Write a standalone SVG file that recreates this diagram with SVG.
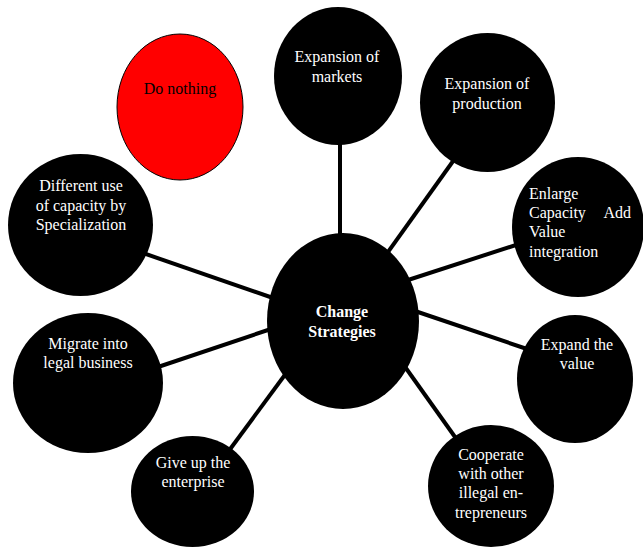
<svg xmlns="http://www.w3.org/2000/svg" width="643" height="549" viewBox="0 0 643 549">
<style>
.node{fill:#000;}
.t{font-family:"Liberation Serif","Times New Roman",serif;font-size:16px;fill:#fff;text-anchor:middle;}
.tl{text-anchor:start;}
.b{font-weight:bold;}
.conn line{stroke:#000;stroke-width:4;}
</style>
<rect width="643" height="549" fill="#fff"/>
<g id="connectors" class="conn">
<line x1="340" y1="140" x2="340" y2="240"/>
<line x1="456" y1="157" x2="383" y2="259"/>
<line x1="405" y1="281" x2="525" y2="242"/>
<line x1="412" y1="310" x2="530" y2="350"/>
<line x1="403" y1="364" x2="460" y2="444"/>
<line x1="287" y1="372" x2="228" y2="452"/>
<line x1="274" y1="328" x2="155" y2="368"/>
<line x1="276" y1="299" x2="140" y2="252"/>
</g>
<g id="do-nothing">
<ellipse cx="180" cy="107" rx="63" ry="73" fill="#ff0000" stroke="#000" stroke-width="1"/>
<text class="t" x="180" y="94" style="fill:#000">Do nothing</text>
</g>
<g id="expansion-markets">
<ellipse class="node" cx="338" cy="76" rx="64" ry="69"/>
<text class="t" x="337" y="62">Expansion of</text>
<text class="t" x="337" y="82">markets</text>
</g>
<g id="expansion-production">
<ellipse class="node" cx="487.5" cy="102.5" rx="67.5" ry="69.5"/>
<text class="t" x="487" y="89">Expansion of</text>
<text class="t" x="487" y="109">production</text>
</g>
<g id="enlarge-capacity">
<ellipse class="node" cx="578" cy="227" rx="66" ry="70"/>
<text class="t tl" x="529" y="199">Enlarge</text>
<text class="t tl" x="529" y="218">Capacity</text>
<text class="t" x="631" y="218" style="text-anchor:end">Add</text>
<text class="t tl" x="529" y="237">Value</text>
<text class="t tl" x="529" y="257">integration</text>
</g>
<g id="expand-value">
<ellipse class="node" cx="575" cy="379" rx="58" ry="64"/>
<text class="t" x="577" y="350">Expand the</text>
<text class="t" x="577" y="369">value</text>
</g>
<g id="cooperate">
<ellipse class="node" cx="491" cy="486" rx="63" ry="61"/>
<text class="t" x="491" y="460">Cooperate</text>
<text class="t" x="491" y="479">with other</text>
<text class="t" x="491" y="498">illegal en-</text>
<text class="t" x="491" y="518">trepreneurs</text>
</g>
<g id="give-up">
<ellipse class="node" cx="192.5" cy="491.5" rx="61.5" ry="55.5"/>
<text class="t" x="193" y="468">Give up the</text>
<text class="t" x="193" y="487">enterprise</text>
</g>
<g id="migrate">
<ellipse class="node" cx="88" cy="383" rx="75" ry="70"/>
<text class="t" x="88" y="349">Migrate into</text>
<text class="t" x="88" y="368">legal business</text>
</g>
<g id="different-use">
<ellipse class="node" cx="80.5" cy="225" rx="72.5" ry="71"/>
<text class="t" x="81" y="191">Different use</text>
<text class="t" x="81" y="211">of capacity by</text>
<text class="t" x="81" y="230">Specialization</text>
</g>
<g id="change-strategies">
<ellipse class="node" cx="343" cy="321" rx="76" ry="88"/>
<text class="t b" x="342" y="317">Change</text>
<text class="t b" x="342" y="337">Strategies</text>
</g>
</svg>
